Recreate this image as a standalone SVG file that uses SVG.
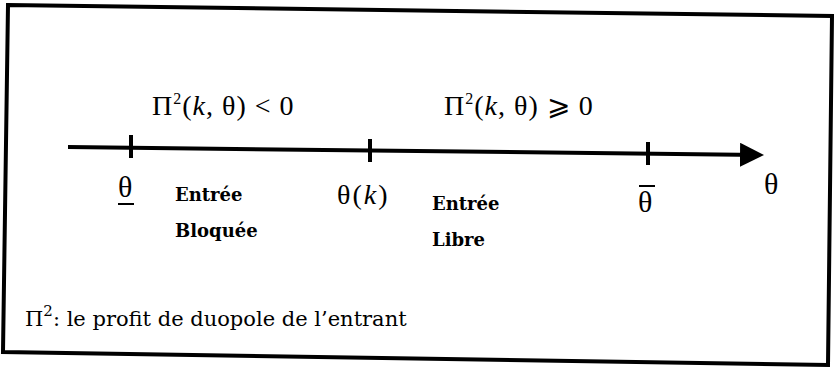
<svg xmlns="http://www.w3.org/2000/svg" width="835" height="368" viewBox="0 0 835 368">
<style>
.m{font-family:"Liberation Serif",serif;font-size:28px;fill:#000}
.g{font-family:"Liberation Serif",serif;font-size:30px;fill:#000}
.b{font-family:"DejaVu Serif",serif;font-size:18px;font-weight:bold;fill:#000}
.t{font-family:"DejaVu Serif",serif;font-size:21px;fill:#000}
.ax{stroke:#000;stroke-width:4;fill:none}
</style>
<defs>
<marker id="arr" markerWidth="6" markerHeight="6" refX="5" refY="3" orient="auto" markerUnits="strokeWidth"><path d="M0,0 L6,3 L0,6 Z" fill="#000"/></marker>
</defs>
<rect width="835" height="368" fill="#fff"/>
<polygon points="8,5 832,16 828,365 3,352" fill="none" stroke="#000" stroke-width="4"/>
<g id="connectors">
<path class="ax" d="M68,147 L760,155" marker-end="url(#arr)"/>
<path class="ax" d="M131,135 V158 M370,139 V162 M648,142 V165"/>
</g>
<g id="label-neg"><text class="m" x="152" y="115" letter-spacing="1">Π<tspan font-size="16" dy="-11">2</tspan><tspan dy="11">(<tspan font-style="italic">k</tspan>, θ) &lt; 0</tspan></text></g>
<g id="label-pos"><text class="m" x="444" y="115" letter-spacing="1">Π<tspan font-size="16" dy="-11">2</tspan><tspan dy="11">(<tspan font-style="italic">k</tspan>, θ) ⩾ 0</tspan></text></g>
<g id="theta-low"><text class="g" x="118" y="197">θ</text><line x1="118" y1="204" x2="134" y2="204" stroke="#000" stroke-width="2"/></g>
<g id="bloquee"><text class="b" x="175" y="201">Entrée</text><text class="b" x="175" y="237">Bloquée</text></g>
<g id="theta-k"><text class="m" x="337" y="204" font-size="30" letter-spacing="2">θ(<tspan font-style="italic">k</tspan>)</text></g>
<g id="libre"><text class="b" x="432" y="210">Entrée</text><text class="b" x="432" y="246">Libre</text></g>
<g id="theta-high"><text class="g" x="638" y="212">θ</text><line x1="639" y1="186" x2="655" y2="186" stroke="#000" stroke-width="2"/></g>
<g id="theta-axis"><text class="g" x="764" y="194">θ</text></g>
<g id="note"><text class="t" x="25" y="326">Π<tspan font-size="15" dy="-10">2</tspan><tspan dy="10">: le profit de duopole de l’entrant</tspan></text></g>
</svg>
